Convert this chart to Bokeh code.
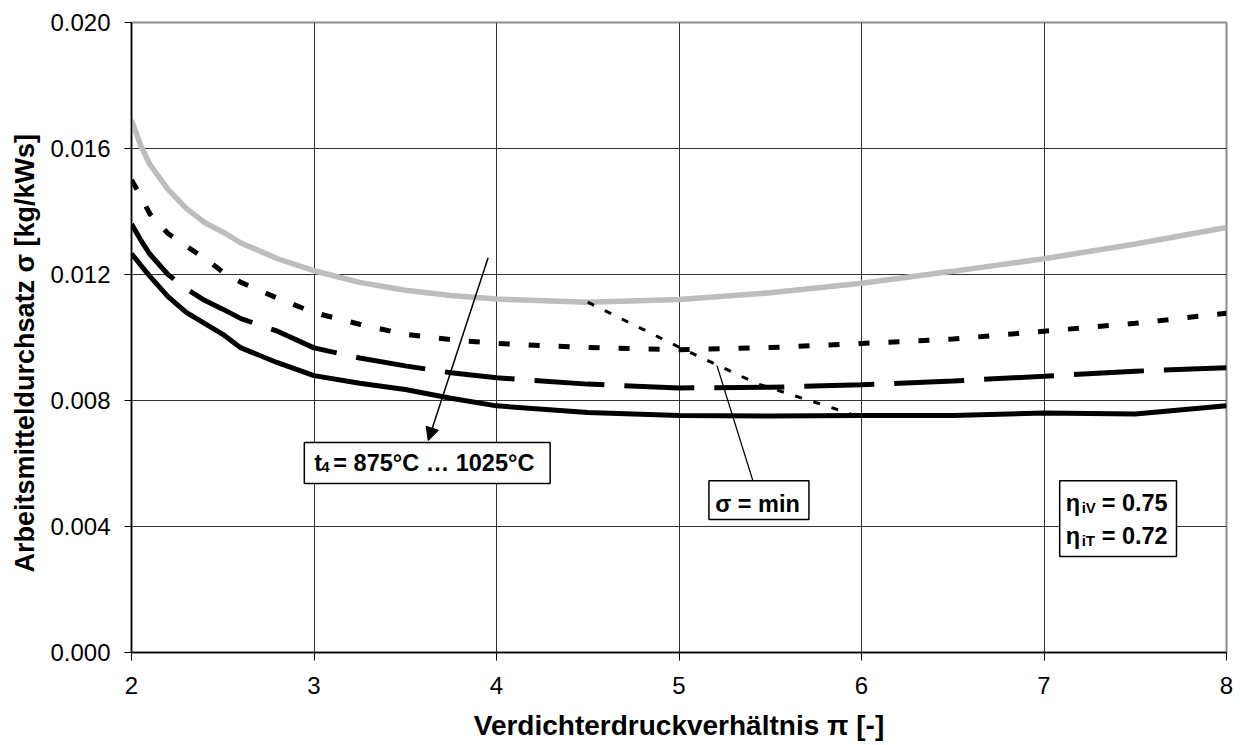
import math
from bokeh.plotting import figure
from bokeh.models import (Range1d, FixedTicker, PrintfTickFormatter, Label, BoxAnnotation,
                          Arrow, NormalHead, Title)
from bokeh.embed import file_html
from bokeh.resources import INLINE

# ---------------- data ----------------
pi_vals = [2.0, 2.05, 2.1, 2.2, 2.3, 2.4, 2.5, 2.6, 2.8, 3.0, 3.25, 3.5, 3.75, 4.0,
           4.5, 5.0, 5.5, 6.0, 6.5, 7.0, 7.5, 8.0]
sigma_875 = [0.01266, 0.0123, 0.01195, 0.0113, 0.0108, 0.01045, 0.0101, 0.00967, 0.0092,
             0.00879, 0.00855, 0.00835, 0.00807, 0.00783, 0.00762, 0.00752, 0.00751,
             0.00752, 0.00752, 0.0076, 0.00757, 0.00783]
sigma_925 = [0.0136, 0.0131, 0.01265, 0.0120, 0.01155, 0.01118, 0.0109, 0.0106, 0.0102,
             0.00967, 0.00935, 0.0091, 0.00888, 0.00872, 0.00852, 0.0084, 0.00842,
             0.0085, 0.00862, 0.00877, 0.00893, 0.00904]
sigma_975 = [0.0150, 0.0145, 0.01393, 0.0133, 0.0129, 0.01252, 0.01208, 0.01175, 0.01125,
             0.01079, 0.01042, 0.0101, 0.00993, 0.00981, 0.00968, 0.00961, 0.00968,
             0.00981, 0.00995, 0.0102, 0.01045, 0.01077]
sigma_1025 = [0.0169, 0.0161, 0.0155, 0.0147, 0.0141, 0.01365, 0.01335, 0.0130, 0.0125,
              0.01212, 0.01175, 0.0115, 0.01133, 0.01122, 0.01112, 0.01121, 0.01142,
              0.01172, 0.0121, 0.0125, 0.01297, 0.01349]
# locus of minima (sigma = min)
min_pi = [4.5, 5.03, 5.43, 5.94]
min_sigma = [0.01112, 0.00961, 0.00853, 0.00758]

x_ticks = [2, 3, 4, 5, 6, 7, 8]
y_ticks = [0.0, 0.004, 0.008, 0.012, 0.016, 0.020]

x_title = "Verdichterdruckverhältnis π [-]"
y_title = "Arbeitsmitteldurchsatz σ [kg/kWs]"

FONT = "Liberation Sans"

# ---------------- figure ----------------
p = figure(width=1236, height=745, output_backend="svg", toolbar_location=None,
           x_range=Range1d(2, 8), y_range=Range1d(0, 0.02),
           min_border_left=130, min_border_right=10, min_border_top=22, min_border_bottom=93)
p.background_fill_color = "white"
p.border_fill_color = "white"
p.outline_line_color = "#8c8c8c"
p.outline_line_width = 2

p.xaxis.ticker = FixedTicker(ticks=x_ticks)
p.yaxis.ticker = FixedTicker(ticks=y_ticks)
p.yaxis.formatter = PrintfTickFormatter(format="%.3f")
for ax in (p.xaxis[0], p.yaxis[0]):
    ax.axis_line_color = "black"
    ax.axis_line_width = 1.5
    ax.major_tick_line_color = "black"
    ax.major_tick_line_width = 1
    ax.major_tick_in = 0
    ax.minor_tick_line_color = None
    ax.major_label_text_font = FONT
    ax.major_label_text_font_size = "24px"
    ax.major_label_text_color = "black"
    ax.axis_label_text_font = FONT
    ax.axis_label_text_font_size = "28px"
    ax.axis_label_text_font_style = "bold"
    ax.axis_label_text_color = "black"
p.xaxis.major_tick_out = 8
p.yaxis.major_tick_out = 7
p.xaxis.major_label_standoff = 16
p.yaxis.major_label_standoff = 14
p.xaxis.axis_label = x_title
p.xaxis.axis_label_standoff = 13

# y-axis title as a side title so it can be shifted like the original
p.add_layout(Title(text=y_title, align="left", offset=80, standoff=15,
                   text_font=FONT, text_font_size="27px", text_font_style="bold",
                   text_color="black"), "left")

p.grid.grid_line_color = "#333333"
p.grid.grid_line_width = 1

# ---------------- curves ----------------
p.line(pi_vals, sigma_1025, line_color="#bdbdbd", line_width=5.5)
p.line(pi_vals, sigma_975, line_color="black", line_width=5, line_dash="11 19")
p.line(pi_vals, sigma_925, line_color="black", line_width=5, line_dash="70 20")
p.line(pi_vals, sigma_875, line_color="black", line_width=5)
p.line(min_pi, min_sigma, line_color="black", line_width=3, line_dash="7 12")

# ---------------- annotations ----------------
def txt(x, y, t, size="23.5px", xo=0, align="left"):
    p.add_layout(Label(x=x, y=y, x_offset=xo, text=t, text_align=align,
                       text_baseline="alphabetic", text_font=FONT,
                       text_font_size=size, text_font_style="bold", text_color="black"))

box_style = dict(fill_color="white", fill_alpha=1.0, line_color="black", line_width=1.5,
                 line_alpha=1.0)

# t4 box + arrow
p.add_layout(BoxAnnotation(left=2.947, right=4.294, top=0.006663, bottom=0.005362, **box_style))
p.add_layout(Arrow(end=NormalHead(size=13, fill_color="black", line_color="black"),
                   x_start=3.954, y_start=0.01253, x_end=3.626, y_end=0.006727,
                   line_color="black", line_width=1.5))
txt(3.0018, 0.00603, "t")
txt(3.0018, 0.00590, "4", size="15px", xo=7)
txt(3.0018, 0.00603, "= 875°C … 1025°C", xo=19)

# sigma = min box + line
p.add_layout(BoxAnnotation(left=5.164, right=5.712, top=0.00545, bottom=0.00422, **box_style))
p.segment(x0=[5.405], y0=[0.00545], x1=[5.208], y1=[0.009107], line_color="black",
          line_width=1.3)
txt(5.43, 0.0047, "σ = min", align="center")

# efficiency box
p.add_layout(BoxAnnotation(left=7.086, right=7.726, top=0.00545, bottom=0.003046, **box_style))
txt(7.1186, 0.00476, "η")
txt(7.1186, 0.00460, "iV", size="15px", xo=16)
txt(7.1186, 0.00476, "= 0.75", xo=36)
txt(7.1186, 0.00370, "η")
txt(7.1186, 0.00355, "iT", size="15px", xo=16)
txt(7.1186, 0.00370, "= 0.72", xo=36)

open("out.html", "w").write(file_html(p, INLINE))
